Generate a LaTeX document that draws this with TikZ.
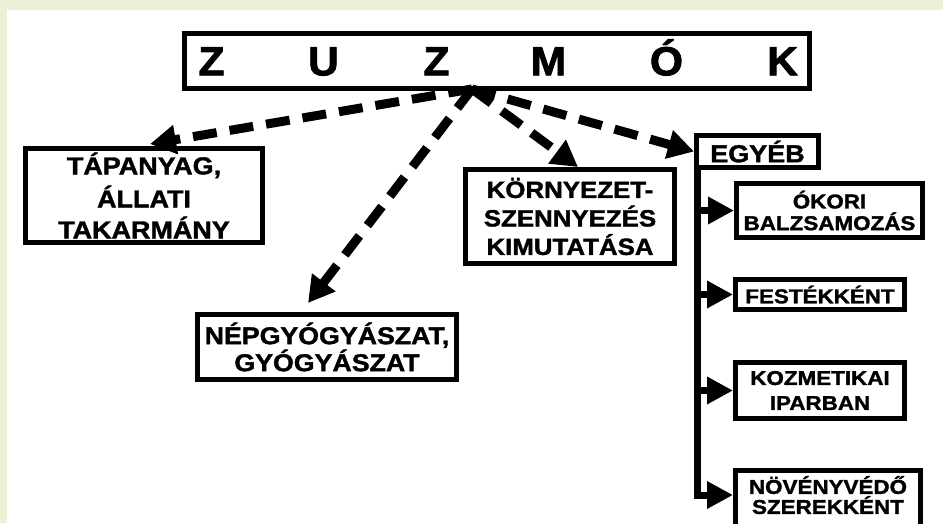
\documentclass[tikz,border=0pt]{standalone}
\usepackage{fontspec}
\setmainfont{Liberation Sans}
\newfontfamily\boxfont{Liberation Sans}[FakeStretch=1.1, BoldFeatures={FakeBold=1.6}]
\newfontfamily\colfont{Liberation Sans}[FakeStretch=1.12, BoldFeatures={FakeBold=1.6}]
\newfontfamily\titlefont{Liberation Sans}[FakeStretch=1.05, BoldFeatures={FakeBold=2}]
\usetikzlibrary{arrows.meta,calc}
\definecolor{bgframe}{RGB}{236,240,212}
\begin{document}
\begin{tikzpicture}[x=1pt,y=-1pt,
  box/.style={draw, line width=5pt, inner sep=0pt, align=center},
  bigtext/.style={font=\boxfont\bfseries\fontsize{#1}{#1}\selectfont},
  coltext/.style={font=\colfont\bfseries\fontsize{20}{20}\selectfont},
  dasharrow/.style={line width=9pt, dash pattern=on 24pt off 13pt, -{Triangle[length=26pt,width=28pt]}},
  brarrow/.style={line width=7pt, line join=miter, -{Triangle[length=26pt,width=26pt]}},
]
\useasboundingbox (0,0) rectangle (943,523);
\fill[bgframe] (0,0) rectangle (943,523);
\fill[white] (7,10) rectangle (943,523);

% title
\node[box, minimum width=625pt, minimum height=55.5pt, text height=29pt, text depth=0pt,
      font=\titlefont\bfseries\fontsize{40.5}{40.5}\selectfont] (title) at (497,60.75)
  {\makebox[0pt]{Z}\hspace{112pt}\makebox[0pt]{U}\hspace{113pt}\makebox[0pt]{Z}\hspace{112pt}\makebox[0pt]{M}\hspace{118pt}\makebox[0pt]{Ó}\hspace{116pt}\makebox[0pt]{K}};

% main boxes
\node[box, bigtext=24.5, minimum width=237pt, minimum height=94pt] (tap) at (144,195.5)
  {TÁPANYAG,\\[6.5pt]ÁLLATI\\[6.5pt]TAKARMÁNY};
\node[box, bigtext=24.3, minimum width=259pt, minimum height=65pt] (nep) at (327,347)
  {NÉPGYÓGYÁSZAT,\\[0.7pt]GYÓGYÁSZAT};
\node[box, bigtext=23.5, minimum width=209pt, minimum height=94pt] (kor) at (570,216.5)
  {KÖRNYEZET-\\[5pt]SZENNYEZÉS\\[5pt]KIMUTATÁSA};
\node[box, bigtext=24.5, minimum width=122pt, minimum height=32pt] (egy) at (757.5,151.5)
  {EGYÉB};

% right column
\node[box, coltext, minimum width=186pt, minimum height=54pt] (oko) at (829.5,210.5)
  {ÓKORI\\[1.7pt]BALZSAMOZÁS};
\node[box, coltext, minimum width=169pt, minimum height=30pt] (fes) at (820,294.5)
  {FESTÉKKÉNT};
\node[box, coltext, minimum width=169pt, minimum height=56pt] (koz) at (820,390.5)
  {KOZMETIKAI\\[5pt]IPARBAN};
\node[box, coltext, minimum width=185pt, minimum height=57pt] (nov) at (828,499)
  {NÖVÉNYVÉDŐ\\[0pt]SZEREKKÉNT\rule[-8pt]{0pt}{8pt}};

% dashed arrows from the title
\coordinate (src) at ($(title.south)+(-25,-2)$);
\draw[dasharrow] (src) -- ($(tap.north)+(6,-2)$);
\draw[dasharrow] (src) -- ($(nep.north)+(-19,-9)$);
\draw[dasharrow] (src) -- ($(kor.north)+(8,0)$);
\draw[dasharrow] (src) -- (egy.west);

% bus
\coordinate (bus) at ($(egy.south west)+(3.5,-3)$);
\draw[brarrow] (bus) |- ($(nov.west)+(0,-4)$);
\draw[brarrow] (bus |- oko.west) -- (oko.west);
\draw[brarrow] (bus |- fes.west) -- (fes.west);
\draw[brarrow] (bus |- koz.west) -- (koz.west);
\end{tikzpicture}
\end{document}
